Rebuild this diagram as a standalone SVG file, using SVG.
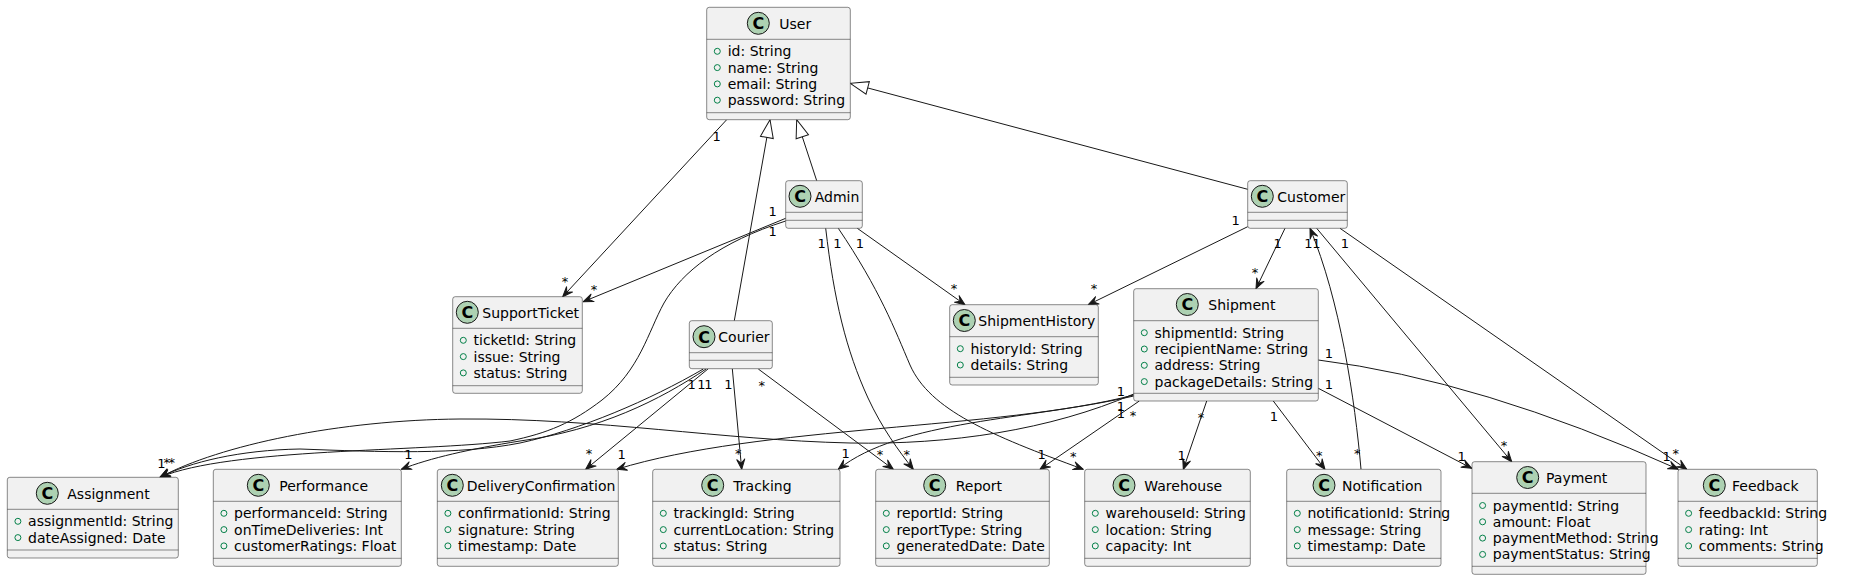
<svg xmlns="http://www.w3.org/2000/svg" width="1876" height="580" viewBox="0 0 1876 580">
<style>
.box{fill:#F1F1F1;stroke:#181818;stroke-width:0.5}
.sep{stroke:#181818;stroke-width:0.5}
.circ{fill:#ADD1B2;stroke:#181818;stroke-width:1}
.cg{font-family:"DejaVu Sans",sans-serif;font-size:16px;font-weight:bold;fill:#000;text-anchor:middle}
.t{font-family:"DejaVu Sans",sans-serif;font-size:14px;fill:#000}
.vis{fill:none;stroke:#038048;stroke-width:1}
.e{fill:none;stroke:#181818;stroke-width:1}
.a{marker-end:url(#arr)}
.g{marker-end:url(#tri)}
.l{font-family:"DejaVu Sans",sans-serif;font-size:13px;fill:#000;text-anchor:middle}
</style>
<defs>
<marker id="arr" viewBox="-11 -5 12 10" markerWidth="12" markerHeight="10" refX="0" refY="0" orient="auto" markerUnits="userSpaceOnUse"><path d="M0,0 L-10,-4 L-6,0 L-10,4 Z" fill="#181818" stroke="#181818" stroke-width="1" stroke-linejoin="round"/></marker>
<marker id="tri" viewBox="-20 -9 22 18" markerWidth="22" markerHeight="18" refX="0" refY="0" orient="auto" markerUnits="userSpaceOnUse"><path d="M0,0 L-18,-6.5 L-18,6.5 Z" fill="#FFFFFF" stroke="#181818" stroke-width="1"/></marker>
</defs>
<rect width="1876" height="580" fill="#FFFFFF"/>

<g id="connectors">
<path class="e g" d="M816.7,180.7 L796.7,119.7"/>
<path class="e g" d="M734.3,320.7 L770,119.7"/>
<path class="e g" d="M1247.7,189.3 L850.3,83.3"/>
<path class="e a" d="M726.7,119.7 L562.7,296.7"/>
<path class="e a" d="M785.7,218.3 L583.3,301.7"/>
<path class="e a" d="M785.7,221 C720,242 682,272 664,303 C648,332 640,370 602,400 C572,423 548,433 510,441 C420,452 230,448 160,477.3"/>
<path class="e a" d="M825.7,228.3 C834,300 846,350 868,398 C882,428 898,450 913.3,469.3"/>
<path class="e a" d="M838.3,228.3 C880,290 895,330 910,365 C930,410 990,435 1083.3,469.3"/>
<path class="e a" d="M857.3,228.3 L965,304.7"/>
<path class="e a" d="M1247.7,226.7 L1088.3,304.7"/>
<path class="e a" d="M1285,228.3 L1256,288.7"/>
<path class="e a" d="M1316.7,228.3 L1511.7,461.7"/>
<path class="e a" d="M1340,228.3 L1686.7,469.3"/>
<path class="e a" d="M1361,469.3 C1355,400 1340,300 1310,228.3"/>
<path class="e a" d="M1318.3,360 Q1480,380 1678.3,469.3"/>
<path class="e a" d="M1318.3,388.3 L1471.7,468.3"/>
<path class="e a" d="M1273.3,401 L1325,469.3"/>
<path class="e a" d="M1206.7,401 L1183.3,469.3"/>
<path class="e a" d="M1139.3,401 L1040,469.3"/>
<path class="e a" d="M1133.7,396 C1030,420 900,420 838.3,469.3"/>
<path class="e a" d="M1133.7,395 C1000,430 760,425 616.7,469.3"/>
<path class="e a" d="M1133.7,394 C1050,430 950,445 850,443 C720,440 600,418 460,419 C340,420 220,445 160,477.3"/>
<path class="e a" d="M703.3,369 C650,400 580,430 520,443 C460,455 380,452 300,449 C240,450 190,462 160,477.3"/>
<path class="e a" d="M706,369 C660,400 600,430 520,441 C470,449 430,458 401.3,469.3"/>
<path class="e a" d="M708.3,368.7 L585.7,469.3"/>
<path class="e a" d="M732.3,368.7 L741.7,469.3"/>
<path class="e a" d="M758.3,369 L893.3,469.3"/>
<text class="l" x="716.7" y="140.7">1</text>
<text class="l" x="565" y="285.5">*</text>
<text class="l" x="772.7" y="216.4">1</text>
<text class="l" x="594" y="294">*</text>
<text class="l" x="772.7" y="236.4">1</text>
<text class="l" x="821.7" y="248">1</text>
<text class="l" x="837.3" y="248">1</text>
<text class="l" x="860" y="248">1</text>
<text class="l" x="954" y="292.5">*</text>
<text class="l" x="1235.7" y="225">1</text>
<text class="l" x="1094" y="293">*</text>
<text class="l" x="1277.7" y="248">1</text>
<text class="l" x="1255" y="277">*</text>
<text class="l" x="1308.3" y="248">1</text>
<text class="l" x="1316.5" y="248">1</text>
<text class="l" x="1345" y="248">1</text>
<text class="l" x="1504" y="450">*</text>
<text class="l" x="1675.7" y="458">*</text>
<text class="l" x="1357.3" y="458">*</text>
<text class="l" x="1329" y="358">1</text>
<text class="l" x="1329" y="388.7">1</text>
<text class="l" x="1666.7" y="461.4">1</text>
<text class="l" x="1461.7" y="461.4">1</text>
<text class="l" x="1274" y="421.4">1</text>
<text class="l" x="1319.3" y="460">*</text>
<text class="l" x="1201" y="421.5">*</text>
<text class="l" x="1181.7" y="459.7">1</text>
<text class="l" x="1121" y="396.2">1</text>
<text class="l" x="1121" y="411">1</text>
<text class="l" x="1121" y="418.3">1</text>
<text class="l" x="1133" y="420">*</text>
<text class="l" x="1041.7" y="458.7">1</text>
<text class="l" x="1073.3" y="461">*</text>
<text class="l" x="880" y="458.5">*</text>
<text class="l" x="906.7" y="458.5">*</text>
<text class="l" x="845.7" y="458">1</text>
<text class="l" x="738.3" y="458">*</text>
<text class="l" x="621.7" y="458.7">1</text>
<text class="l" x="589" y="458">*</text>
<text class="l" x="408.5" y="458.5">1</text>
<text class="l" x="161.5" y="467.7">1</text>
<text class="l" x="166.8" y="466.5">*</text>
<text class="l" x="171.8" y="466.5">*</text>
<text class="l" x="691.7" y="388.7">1</text>
<text class="l" x="701.5" y="388.7">1</text>
<text class="l" x="708.3" y="388.7">1</text>
<text class="l" x="728.3" y="388.7">1</text>
<text class="l" x="761.7" y="390">*</text>
</g>

<g id="User">
<rect class="box" x="706.7" y="7.3" width="143.6" height="112.4" rx="2.5"/>
<circle class="circ" cx="758.3" cy="23.3" r="11"/><text class="cg" x="758.3" y="29.1">C</text>
<text class="t" x="779.3" y="28.5">User</text>
<line class="sep" x1="706.7" y1="39.3" x2="850.3" y2="39.3"/>
<circle class="vis" cx="717.3" cy="51.3" r="3"/><text class="t" x="727.7" y="56.3">id: String</text>
<circle class="vis" cx="717.3" cy="67.6" r="3"/><text class="t" x="727.7" y="72.6">name: String</text>
<circle class="vis" cx="717.3" cy="83.9" r="3"/><text class="t" x="727.7" y="88.9">email: String</text>
<circle class="vis" cx="717.3" cy="100.2" r="3"/><text class="t" x="727.7" y="105.2">password: String</text>
<line class="sep" x1="706.7" y1="112.7" x2="850.3" y2="112.7"/>
</g>

<g id="Admin">
<rect class="box" x="785.7" y="180.7" width="76.6" height="47.6" rx="2.5"/>
<circle class="circ" cx="800" cy="196.3" r="11"/><text class="cg" x="800" y="202.1">C</text>
<text class="t" x="814.7" y="201.7">Admin</text>
<line class="sep" x1="785.7" y1="212.3" x2="862.3" y2="212.3"/>
<line class="sep" x1="785.7" y1="220.3" x2="862.3" y2="220.3"/>
</g>

<g id="Customer">
<rect class="box" x="1247.7" y="180.7" width="99.6" height="47.6" rx="2.5"/>
<circle class="circ" cx="1262.3" cy="196.3" r="11"/><text class="cg" x="1262.3" y="202.1">C</text>
<text class="t" x="1277.3" y="201.7">Customer</text>
<line class="sep" x1="1247.7" y1="212.3" x2="1347.3" y2="212.3"/>
<line class="sep" x1="1247.7" y1="220.3" x2="1347.3" y2="220.3"/>
</g>

<g id="Courier">
<rect class="box" x="689.3" y="320.7" width="83" height="48" rx="2.5"/>
<circle class="circ" cx="704" cy="336.7" r="11"/><text class="cg" x="704" y="342.5">C</text>
<text class="t" x="718.3" y="341.7">Courier</text>
<line class="sep" x1="689.3" y1="352.7" x2="772.3" y2="352.7"/>
<line class="sep" x1="689.3" y1="360.3" x2="772.3" y2="360.3"/>
</g>

<g id="SupportTicket">
<rect class="box" x="452.7" y="296.7" width="129.6" height="96.6" rx="2.5"/>
<circle class="circ" cx="467.3" cy="312.3" r="11"/><text class="cg" x="467.3" y="318.1">C</text>
<text class="t" x="482.3" y="317.7">SupportTicket</text>
<line class="sep" x1="452.7" y1="328.3" x2="582.3" y2="328.3"/>
<circle class="vis" cx="463.3" cy="340.3" r="3"/><text class="t" x="473.5" y="345.3">ticketId: String</text>
<circle class="vis" cx="463.3" cy="356.6" r="3"/><text class="t" x="473.5" y="361.6">issue: String</text>
<circle class="vis" cx="463.3" cy="372.9" r="3"/><text class="t" x="473.5" y="377.9">status: String</text>
<line class="sep" x1="452.7" y1="385.7" x2="582.3" y2="385.7"/>
</g>

<g id="ShipmentHistory">
<rect class="box" x="949.7" y="304.7" width="148.6" height="80.3" rx="2.5"/>
<circle class="circ" cx="964.3" cy="320.5" r="11"/><text class="cg" x="964.3" y="326.3">C</text>
<text class="t" x="978.3" y="325.7">ShipmentHistory</text>
<line class="sep" x1="949.7" y1="336.7" x2="1098.3" y2="336.7"/>
<circle class="vis" cx="960.3" cy="348.7" r="3"/><text class="t" x="970.5" y="353.7">historyId: String</text>
<circle class="vis" cx="960.3" cy="365" r="3"/><text class="t" x="970.5" y="370">details: String</text>
<line class="sep" x1="949.7" y1="377.3" x2="1098.3" y2="377.3"/>
</g>

<g id="Shipment">
<rect class="box" x="1133.7" y="288.7" width="184.6" height="112.3" rx="2.5"/>
<circle class="circ" cx="1187.3" cy="304.5" r="11"/><text class="cg" x="1187.3" y="310.3">C</text>
<text class="t" x="1208.3" y="309.7">Shipment</text>
<line class="sep" x1="1133.7" y1="320.7" x2="1318.3" y2="320.7"/>
<circle class="vis" cx="1144.3" cy="332.7" r="3"/><text class="t" x="1154.5" y="337.7">shipmentId: String</text>
<circle class="vis" cx="1144.3" cy="349" r="3"/><text class="t" x="1154.5" y="354">recipientName: String</text>
<circle class="vis" cx="1144.3" cy="365.3" r="3"/><text class="t" x="1154.5" y="370.3">address: String</text>
<circle class="vis" cx="1144.3" cy="381.6" r="3"/><text class="t" x="1154.5" y="386.6">packageDetails: String</text>
<line class="sep" x1="1133.7" y1="393.3" x2="1318.3" y2="393.3"/>
</g>

<g id="Assignment">
<rect class="box" x="7.3" y="477.3" width="171" height="80.7" rx="2.5"/>
<circle class="circ" cx="47.3" cy="493.3" r="11"/><text class="cg" x="47.3" y="499.1">C</text>
<text class="t" x="67.3" y="498.5">Assignment</text>
<line class="sep" x1="7.3" y1="509.3" x2="178.3" y2="509.3"/>
<circle class="vis" cx="17.9" cy="521.3" r="3"/><text class="t" x="28.1" y="526.3">assignmentId: String</text>
<circle class="vis" cx="17.9" cy="537.6" r="3"/><text class="t" x="28.1" y="542.6">dateAssigned: Date</text>
<line class="sep" x1="7.3" y1="550" x2="178.3" y2="550"/>
</g>

<g id="Performance">
<rect class="box" x="213.3" y="469.3" width="188" height="97" rx="2.5"/>
<circle class="circ" cx="258.3" cy="485.3" r="11"/><text class="cg" x="258.3" y="491.1">C</text>
<text class="t" x="279.3" y="490.5">Performance</text>
<line class="sep" x1="213.3" y1="501.3" x2="401.3" y2="501.3"/>
<circle class="vis" cx="223.9" cy="513.3" r="3"/><text class="t" x="234.1" y="518.3">performanceId: String</text>
<circle class="vis" cx="223.9" cy="529.6" r="3"/><text class="t" x="234.1" y="534.6">onTimeDeliveries: Int</text>
<circle class="vis" cx="223.9" cy="545.9" r="3"/><text class="t" x="234.1" y="550.9">customerRatings: Float</text>
<line class="sep" x1="213.3" y1="558.3" x2="401.3" y2="558.3"/>
</g>

<g id="DeliveryConfirmation">
<rect class="box" x="437.3" y="469.3" width="181" height="97" rx="2.5"/>
<circle class="circ" cx="452.3" cy="485.3" r="11"/><text class="cg" x="452.3" y="491.1">C</text>
<text class="t" x="466.7" y="490.5">DeliveryConfirmation</text>
<line class="sep" x1="437.3" y1="501.3" x2="618.3" y2="501.3"/>
<circle class="vis" cx="447.9" cy="513.3" r="3"/><text class="t" x="458.1" y="518.3">confirmationId: String</text>
<circle class="vis" cx="447.9" cy="529.6" r="3"/><text class="t" x="458.1" y="534.6">signature: String</text>
<circle class="vis" cx="447.9" cy="545.9" r="3"/><text class="t" x="458.1" y="550.9">timestamp: Date</text>
<line class="sep" x1="437.3" y1="558.3" x2="618.3" y2="558.3"/>
</g>

<g id="Tracking">
<rect class="box" x="652.7" y="469.3" width="187.3" height="97" rx="2.5"/>
<circle class="circ" cx="712.7" cy="485.3" r="11"/><text class="cg" x="712.7" y="491.1">C</text>
<text class="t" x="733.3" y="490.5">Tracking</text>
<line class="sep" x1="652.7" y1="501.3" x2="840" y2="501.3"/>
<circle class="vis" cx="663.3" cy="513.3" r="3"/><text class="t" x="673.5" y="518.3">trackingId: String</text>
<circle class="vis" cx="663.3" cy="529.6" r="3"/><text class="t" x="673.5" y="534.6">currentLocation: String</text>
<circle class="vis" cx="663.3" cy="545.9" r="3"/><text class="t" x="673.5" y="550.9">status: String</text>
<line class="sep" x1="652.7" y1="558.3" x2="840" y2="558.3"/>
</g>

<g id="Report">
<rect class="box" x="875.7" y="469.3" width="173.6" height="97" rx="2.5"/>
<circle class="circ" cx="934.7" cy="485.3" r="11"/><text class="cg" x="934.7" y="491.1">C</text>
<text class="t" x="955.7" y="490.5">Report</text>
<line class="sep" x1="875.7" y1="501.3" x2="1049.3" y2="501.3"/>
<circle class="vis" cx="886.3" cy="513.3" r="3"/><text class="t" x="896.5" y="518.3">reportId: String</text>
<circle class="vis" cx="886.3" cy="529.6" r="3"/><text class="t" x="896.5" y="534.6">reportType: String</text>
<circle class="vis" cx="886.3" cy="545.9" r="3"/><text class="t" x="896.5" y="550.9">generatedDate: Date</text>
<line class="sep" x1="875.7" y1="558.3" x2="1049.3" y2="558.3"/>
</g>

<g id="Warehouse">
<rect class="box" x="1084.7" y="469.3" width="165.6" height="97" rx="2.5"/>
<circle class="circ" cx="1124" cy="485.3" r="11"/><text class="cg" x="1124" y="491.1">C</text>
<text class="t" x="1144.3" y="490.5">Warehouse</text>
<line class="sep" x1="1084.7" y1="501.3" x2="1250.3" y2="501.3"/>
<circle class="vis" cx="1095.3" cy="513.3" r="3"/><text class="t" x="1105.5" y="518.3">warehouseId: String</text>
<circle class="vis" cx="1095.3" cy="529.6" r="3"/><text class="t" x="1105.5" y="534.6">location: String</text>
<circle class="vis" cx="1095.3" cy="545.9" r="3"/><text class="t" x="1105.5" y="550.9">capacity: Int</text>
<line class="sep" x1="1084.7" y1="558.3" x2="1250.3" y2="558.3"/>
</g>

<g id="Notification">
<rect class="box" x="1286.7" y="469.3" width="154.3" height="97" rx="2.5"/>
<circle class="circ" cx="1324" cy="485.3" r="11"/><text class="cg" x="1324" y="491.1">C</text>
<text class="t" x="1342" y="490.5">Notification</text>
<line class="sep" x1="1286.7" y1="501.3" x2="1441" y2="501.3"/>
<circle class="vis" cx="1297.3" cy="513.3" r="3"/><text class="t" x="1307.5" y="518.3">notificationId: String</text>
<circle class="vis" cx="1297.3" cy="529.6" r="3"/><text class="t" x="1307.5" y="534.6">message: String</text>
<circle class="vis" cx="1297.3" cy="545.9" r="3"/><text class="t" x="1307.5" y="550.9">timestamp: Date</text>
<line class="sep" x1="1286.7" y1="558.3" x2="1441" y2="558.3"/>
</g>

<g id="Payment">
<rect class="box" x="1472" y="461.7" width="174" height="112.6" rx="2.5"/>
<circle class="circ" cx="1527.7" cy="477.5" r="11"/><text class="cg" x="1527.7" y="483.3">C</text>
<text class="t" x="1546" y="482.7">Payment</text>
<line class="sep" x1="1472" y1="493.3" x2="1646" y2="493.3"/>
<circle class="vis" cx="1482.6" cy="505.5" r="3"/><text class="t" x="1492.8" y="510.5">paymentId: String</text>
<circle class="vis" cx="1482.6" cy="521.8" r="3"/><text class="t" x="1492.8" y="526.8">amount: Float</text>
<circle class="vis" cx="1482.6" cy="538.1" r="3"/><text class="t" x="1492.8" y="543.1">paymentMethod: String</text>
<circle class="vis" cx="1482.6" cy="554.4" r="3"/><text class="t" x="1492.8" y="559.4">paymentStatus: String</text>
<line class="sep" x1="1472" y1="566.3" x2="1646" y2="566.3"/>
</g>

<g id="Feedback">
<rect class="box" x="1678" y="469.3" width="139.3" height="97" rx="2.5"/>
<circle class="circ" cx="1714.3" cy="485.3" r="11"/><text class="cg" x="1714.3" y="491.1">C</text>
<text class="t" x="1732" y="490.5">Feedback</text>
<line class="sep" x1="1678" y1="501.3" x2="1817.3" y2="501.3"/>
<circle class="vis" cx="1688.6" cy="513.3" r="3"/><text class="t" x="1698.8" y="518.3">feedbackId: String</text>
<circle class="vis" cx="1688.6" cy="529.6" r="3"/><text class="t" x="1698.8" y="534.6">rating: Int</text>
<circle class="vis" cx="1688.6" cy="545.9" r="3"/><text class="t" x="1698.8" y="550.9">comments: String</text>
<line class="sep" x1="1678" y1="558.3" x2="1817.3" y2="558.3"/>
</g>
</svg>
